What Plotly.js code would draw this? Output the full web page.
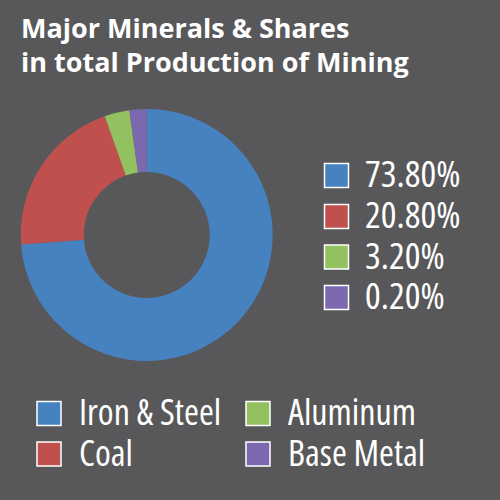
<!DOCTYPE html>
<html>
<head>
<meta charset="utf-8">
<script src="https://cdn.plot.ly/plotly-3.0.1.min.js"></script>
<style>
html,body{margin:0;padding:0;background:#58585a;}
#chart{width:500px;height:500px;}
text{font-stretch:condensed;}
</style>
</head>
<body>
<div id="chart"></div>
<script>
const titleLines = ["Major Minerals & Shares", "in total Production of Mining"];
const categories = ["Iron & Steel", "Coal", "Aluminum", "Base Metal"];
const shares = [73.8, 20.8, 3.2, 2.2];
const shareLabels = ["73.80%", "20.80%", "3.20%", "0.20%"];
const colors = ["#4682c0", "#c0504e", "#93c160", "#7b68ae"];

const FONT = "Open Sans, Roboto, sans-serif";
const W = 500, H = 500;
const px = v => v / W;
const py = v => 1 - v / H;

const shapes = [];
const annotations = [];
const SQ = 24;

// title (two lines, tight leading)
const titleY = [27, 61];
titleLines.forEach((t, i) => {
  annotations.push({xref: "paper", yref: "paper", x: px(18.5), y: py(titleY[i]),
    xanchor: "left", yanchor: "middle", showarrow: false,
    text: '<b><span style="font-stretch:normal">' + t.replace("&", "&amp;") + '</span></b>',
    font: {family: FONT, size: 27, color: "#ffffff"}});
});

// right-hand legend: share labels
const rightRows = [175.5, 216.5, 257, 297.5];
shareLabels.forEach((lab, i) => {
  const cy = rightRows[i];
  shapes.push({type: "rect", xref: "paper", yref: "paper",
    x0: px(324.5), x1: px(324.5 + SQ), y0: py(cy - SQ / 2), y1: py(cy + SQ / 2),
    fillcolor: colors[i], line: {color: "#ffffff", width: 1.5}});
  annotations.push({xref: "paper", yref: "paper", x: px(363), y: py(cy - 3),
    xanchor: "left", yanchor: "middle", showarrow: false, text: lab,
    font: {family: FONT, size: 37, color: "#ffffff"}});
});

// bottom legend: categories in two columns (column-major)
const colX = [37, 246];
const rowY = [413.5, 454];
categories.forEach((cat, i) => {
  const c = Math.floor(i / 2), r = i % 2;
  const cx = colX[c], cy = rowY[r];
  shapes.push({type: "rect", xref: "paper", yref: "paper",
    x0: px(cx), x1: px(cx + SQ), y0: py(cy - SQ / 2), y1: py(cy + SQ / 2),
    fillcolor: colors[i], line: {color: "#ffffff", width: 1.5}});
  annotations.push({xref: "paper", yref: "paper", x: px(cx + 40), y: py(cy - 2),
    xanchor: "left", yanchor: "middle", showarrow: false, text: cat,
    font: {family: FONT, size: 36, color: "#ffffff"}});
});

const cxP = 146.7, cyP = 235, R = 126;
const trace = {
  type: "pie",
  labels: categories,
  values: shares,
  hole: 0.5,
  sort: false,
  direction: "clockwise",
  rotation: 0,
  textinfo: "none",
  hoverinfo: "label+percent",
  marker: {colors: colors, line: {width: 0}},
  domain: {x: [px(cxP - R), px(cxP + R)], y: [py(cyP + R), py(cyP - R)]},
  showlegend: false
};

const layout = {
  width: W, height: H,
  margin: {l: 0, r: 0, t: 0, b: 0},
  paper_bgcolor: "#58585a",
  plot_bgcolor: "#58585a",
  showlegend: false,
  shapes: shapes,
  annotations: annotations
};

Plotly.newPlot("chart", [trace], layout, {displayModeBar: false, staticPlot: true});
</script>
</body>
</html>
